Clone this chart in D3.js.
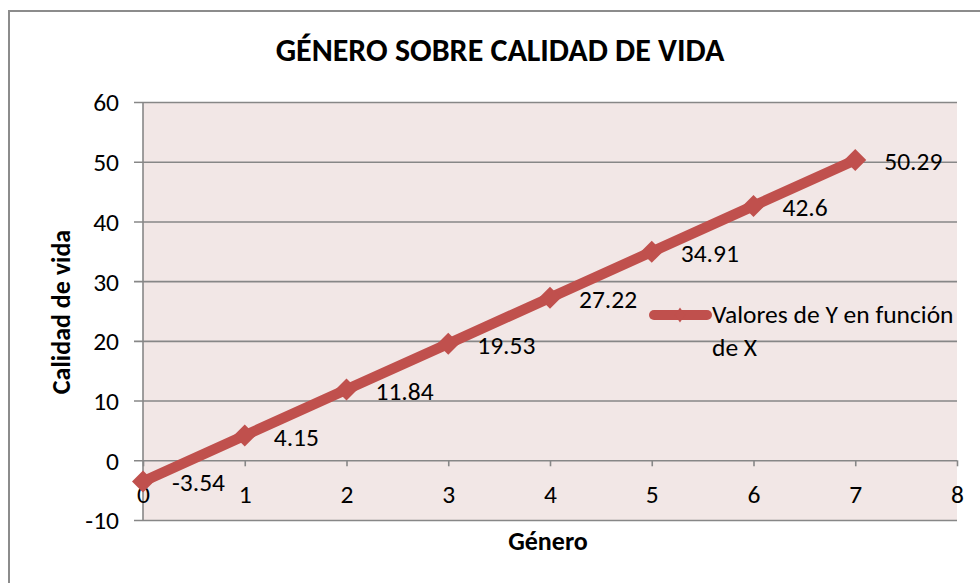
<!DOCTYPE html>
<html>
<head>
<meta charset="utf-8">
<script src="https://cdn.jsdelivr.net/npm/d3@7"></script>
<style>
  html, body { margin: 0; padding: 0; background: #ffffff; }
  svg { display: block; }
  text { font-family: Carlito, Lato, "Open Sans", sans-serif; fill: #000; }
</style>
</head>
<body>
<svg id="chart" width="980" height="583"></svg>
<script>
const chartTitle = "GÉNERO SOBRE CALIDAD DE VIDA";
const xTitle = "Género";
const yTitle = "Calidad de vida";
const seriesName = ["Valores de Y en función", "de X"];
const xValues = [0, 1, 2, 3, 4, 5, 6, 7];
const yValues = [-3.54, 4.15, 11.84, 19.53, 27.22, 34.91, 42.6, 50.29];
const pointLabels = ["-3.54", "4.15", "11.84", "19.53", "27.22", "34.91", "42.6", "50.29"];
const xTicks = [0, 1, 2, 3, 4, 5, 6, 7, 8];
const yTicks = [-10, 0, 10, 20, 30, 40, 50, 60];

const svg = d3.select("#chart");
const red = "#c0504d";
const grid = "#878787";
const fs = 25.5;

// outer border
svg.append("rect").attr("x", 9).attr("y", 11).attr("width", 1000).attr("height", 1000)
  .attr("fill", "#fff").attr("stroke", "#8c8c8c").attr("stroke-width", 2);

const x = d3.scaleLinear().domain([0, 8]).range([143, 957]);
const y = d3.scaleLinear().domain([-10, 60]).range([520, 102]);

// plot background
svg.append("rect").attr("x", x(0)).attr("y", y(60))
  .attr("width", x(8) - x(0)).attr("height", y(-10) - y(60)).attr("fill", "#f2e7e6");

// horizontal gridlines + y ticks
const yAxis = d3.axisLeft(y).tickValues(yTicks).tickSize(-(x(8) - x(0))).tickPadding(24).tickFormat(d => String(d));
const gy = svg.append("g").attr("transform", `translate(${x(0)},0)`).call(yAxis);
gy.select(".domain").remove();
gy.selectAll(".tick line").attr("stroke", grid).attr("stroke-width", 1.6).attr("x1", -9);
gy.selectAll(".tick text").attr("font-size", fs).attr("font-family", "Carlito, Lato, sans-serif").attr("fill", "#000").attr("dy", "0.35em");

// vertical axis line
svg.append("line").attr("x1", x(0)).attr("x2", x(0)).attr("y1", y(60)).attr("y2", y(-10))
  .attr("stroke", grid).attr("stroke-width", 1.6);

// x axis at y=0
const xAxis = d3.axisBottom(x).tickValues(xTicks).tickSize(6).tickPadding(0).tickFormat(d => String(d));
const gx = svg.append("g").attr("transform", `translate(0,${y(0)})`).call(xAxis);
gx.select(".domain").remove();
gx.selectAll(".tick line").attr("stroke", grid).attr("stroke-width", 1.6);
gx.selectAll(".tick text").attr("font-size", fs).attr("font-family", "Carlito, Lato, sans-serif")
  .attr("fill", "#000").attr("y", 0).attr("dy", 43);

// series line
const pts = xValues.map((v, i) => [v, yValues[i]]);
svg.append("path").datum(pts)
  .attr("d", d3.line().x(d => x(d[0])).y(d => y(d[1])))
  .attr("fill", "none").attr("stroke", red).attr("stroke-width", 10.5).attr("stroke-linejoin", "round").attr("stroke-linecap", "round");

// markers
const diamond = d3.symbol().type(d3.symbolDiamond2).size(310);
svg.selectAll(".mk").data(pts).enter().append("path")
  .attr("transform", d => `translate(${x(d[0])},${y(d[1])})`)
  .attr("d", diamond()).attr("fill", red);

// data labels
svg.selectAll(".lbl").data(pts).enter().append("text")
  .attr("x", d => x(d[0]) + 29).attr("y", d => y(d[1]) + 10)
  .attr("font-size", fs).text((d, i) => pointLabels[i]);

// legend
const lg = svg.append("g");
lg.append("line").attr("x1", 654).attr("x2", 707).attr("y1", 315).attr("y2", 315)
  .attr("stroke", red).attr("stroke-width", 10).attr("stroke-linecap", "round");
lg.append("path").attr("transform", "translate(680,315) scale(0.75,1.1)")
  .attr("d", d3.symbol().type(d3.symbolDiamond2).size(120)()).attr("fill", red);
lg.append("text").attr("x", 712).attr("y", 323).attr("font-size", fs).text(seriesName[0]);
lg.append("text").attr("x", 712).attr("y", 356).attr("font-size", fs).text(seriesName[1]);

// titles
svg.append("text").attr("x", 500).attr("y", 61).attr("text-anchor", "middle")
  .attr("font-size", 32).attr("font-weight", "bold").text(chartTitle);
svg.append("text").attr("x", 548).attr("y", 550).attr("text-anchor", "middle")
  .attr("font-size", 26).attr("font-weight", "bold").text(xTitle);
svg.append("text").attr("transform", "translate(70,312) rotate(-90)").attr("text-anchor", "middle")
  .attr("font-size", 26).attr("font-weight", "bold").text(yTitle);
</script>
</body>
</html>
